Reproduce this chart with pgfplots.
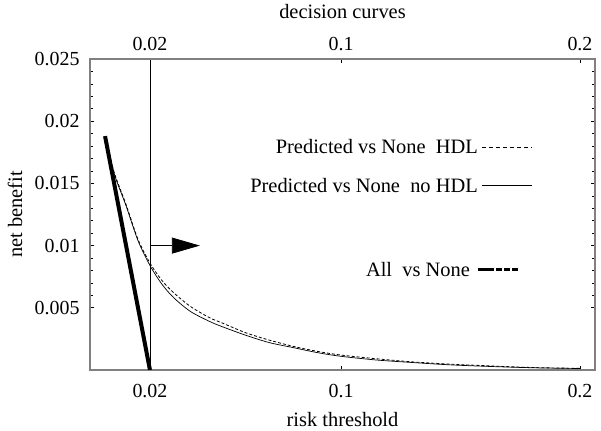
\documentclass[border=0pt]{standalone}
\usepackage{pgfplots}
\pgfplotsset{compat=1.18}
\usepackage{fontspec}
\setmainfont{Liberation Serif}
\usetikzlibrary{arrows.meta}

\pgfplotsset{
  commonax/.style={
    at={(0,0)}, anchor=south west,
    scale only axis, width=505bp, height=311bp,
    xmin=-0.0051, xmax=0.2063, ymin=0, ymax=0.025,
    xtick={0.02,0.1,0.2}, xticklabels={0.02,0.1,0.2},
    font=\fontsize{20.5}{24}\selectfont,
    tick label style={font=\fontsize{20}{23}\selectfont},
    /pgf/number format/assume math mode=true,
    axis line style={draw=gray, line width=2bp},
    tick style={black, line width=0.6bp},
    major tick length=4bp, minor tick length=3bp,
  }
}

\begin{document}
\begin{tikzpicture}
\useasboundingbox (-90bp,-61bp) rectangle (511bp,370bp);
\begin{axis}[commonax,
  ytick={0.005,0.01,0.015,0.02,0.025},
  yticklabels={0.005,0.01,0.015,0.02,0.025},
  minor y tick num=4,
  scaled y ticks=false,
  xticklabel style={yshift=-11bp},
  yticklabel style={xshift=-7bp},
  xlabel={risk threshold},
  xlabel style={at={(axis description cs:0.5,0)}, anchor=center, yshift=-50bp},
  ylabel={net benefit},
  ylabel style={at={(axis description cs:-0.1485,0.5)}, anchor=center},
]
% All vs None
\addplot[black, line width=4bp] coordinates {(0.0012,0.0188) (0.02,0)};
% Predicted vs None no HDL (solid)
\addplot[black, line width=0.7bp, smooth] coordinates {
(0.0012,0.0188) (0.005,0.0158) (0.01,0.0132) (0.015,0.0104) (0.02,0.0084)
(0.025,0.0069) (0.03,0.0058) (0.037,0.0047) (0.045,0.0039) (0.05,0.0035)
(0.06,0.0028) (0.07,0.0022) (0.08,0.0018) (0.09,0.0014) (0.1,0.0011)
(0.115,0.0008) (0.13,0.0006) (0.145,0.00042) (0.16,0.0003) (0.18,0.00018) (0.2,0.00012)};
% Predicted vs None HDL (dashed)
\addplot[black, line width=0.8bp, dash pattern=on 3bp off 2bp, smooth] coordinates {
(0.0012,0.0188) (0.005,0.0159) (0.01,0.0133) (0.015,0.0105) (0.02,0.0086)
(0.025,0.0072) (0.03,0.0062) (0.037,0.0051) (0.045,0.0042) (0.05,0.0038)
(0.06,0.0030) (0.07,0.0024) (0.08,0.0019) (0.09,0.0015) (0.1,0.0012)
(0.115,0.0009) (0.13,0.00065) (0.145,0.00048) (0.16,0.00035) (0.18,0.0002) (0.2,0.00013)};
% vertical line and arrow
\addplot[black, line width=0.8bp] coordinates {(0.02,0) (0.02,0.025)};
\addplot[black, line width=0.8bp, -{Triangle[length=28bp,width=16bp]}] coordinates {(0.02,0.01) (0.0409,0.01)};
% legend-like labels
\node[anchor=east, inner sep=0pt] at (axis cs:0.1573,0.01793) {Predicted vs None\ \ HDL};
\draw[black, line width=0.8bp, dash pattern=on 4bp off 3bp] (axis cs:0.1590,0.01793) -- (axis cs:0.1799,0.01793);
\node[anchor=east, inner sep=0pt] at (axis cs:0.1573,0.01487) {Predicted vs None\ \ no HDL};
\draw[black, line width=0.8bp] (axis cs:0.1590,0.01487) -- (axis cs:0.1799,0.01487);
\node[anchor=east, inner sep=0pt] at (axis cs:0.154,0.00804) {All\ \ vs None};
\draw[black, line width=3bp, dash pattern=on 16bp off 2bp on 6bp off 2bp on 6bp off 2bp on 6bp] (axis cs:0.1573,0.00804) -- (axis cs:0.1799,0.00804);
\end{axis}
\begin{axis}[commonax,
  axis x line*=top, axis y line=none,
  xticklabel style={yshift=5bp},
  xlabel={decision curves},
  xlabel style={at={(axis description cs:0.5,1)}, anchor=center, yshift=47bp},
]
\end{axis}
\end{tikzpicture}
\end{document}
